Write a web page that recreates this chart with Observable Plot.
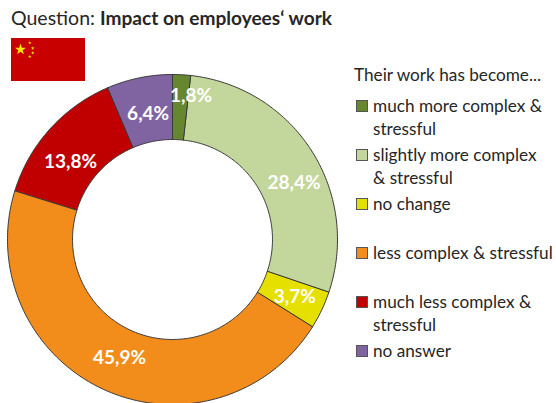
<!DOCTYPE html>
<html>
<head>
<meta charset="utf-8">
<script src="https://cdn.jsdelivr.net/npm/d3@7"></script>
<script src="https://cdn.jsdelivr.net/npm/@observablehq/plot@0.6"></script>
<style>
  html, body { margin: 0; padding: 0; background: #fff; }
  #page { position: relative; width: 556px; height: 403px; overflow: hidden; font-family: Lato, "Open Sans", sans-serif; color: #262626; }
  #page svg { display: block; }
  #donut { position: absolute; left: 0; top: 0; }
  #title { position: absolute; left: 11px; top: 6px; font-size: 19.5px; line-height: 24px; white-space: nowrap; }
  #title b { font-size: 19.1px; }
  #flag { position: absolute; left: 11px; top: 38px; }
  #legend { position: absolute; left: 356px; top: 63px; font-size: 17.2px; line-height: 23px; }
  #legend .head { height: 31px; margin-left: -2px; white-space: nowrap; }
  #legend .row { position: relative; height: 49px; padding-left: 17px; white-space: pre; }
  #legend .swatch { position: absolute; left: 0; top: 6px; width: 10px; height: 10px; border: 1px solid #555; }
</style>
</head>
<body>
<div id="page">
  <div id="donut"></div>
  <div id="title">Question: <b>Impact on employees‘ work</b></div>
  <div id="flag"></div>
  <div id="legend"></div>
</div>
<script>
// Survey answers, clockwise from twelve o'clock
const answers = [
  "much more complex & stressful",
  "slightly more complex & stressful",
  "no change",
  "less complex & stressful",
  "much less complex & stressful",
  "no answer"
];
const shares = [1.8, 28.4, 3.7, 45.9, 13.8, 6.4];
const sliceColors = ["#66862f", "#c3d69b", "#e6e000", "#f28c1a", "#c00000", "#8064a2"];
const legendLines = [
  "much more complex &\nstressful",
  "slightly more complex\n& stressful",
  "no change",
  "less complex & stressful",
  "much less complex &\nstressful",
  "no answer"
];

// Ring geometry in units of the outer radius
const innerRadius = 0.606;
const labelRadius = 0.8;
const polar = (radius, turn) => ({
  x: radius * Math.sin(turn * 2 * Math.PI),
  y: radius * Math.cos(turn * 2 * Math.PI)
});

// Each slice becomes a closed outline: outer arc forward, inner arc back
const total = d3.sum(shares);
const cumulative = d3.cumsum(shares);
const outline = answers.flatMap((answer, i) => {
  const start = (cumulative[i] - shares[i]) / total;
  const end = cumulative[i] / total;
  const steps = Math.max(2, Math.ceil((end - start) * 360));
  const turns = d3.range(steps + 1).map((k) => start + (end - start) * k / steps);
  return [
    ...turns.map((t) => ({answer, ...polar(1, t)})),
    ...turns.slice().reverse().map((t) => ({answer, ...polar(innerRadius, t)}))
  ];
});

// Labels sit at the middle of their slice, nudged off the slice edges
const labelNudges = [[11, -12], [10, 14], [3, 1], [2, -2], [-4, 11], [2, 4]];
const labelMarks = answers.map((answer, i) => {
  const mid = (cumulative[i] - shares[i] / 2) / total;
  const text = shares[i].toFixed(1).replace(".", ",") + "%";
  return Plot.text([{...polar(labelRadius, mid), text}], {
    x: "x", y: "y", text: "text",
    dx: labelNudges[i][0], dy: labelNudges[i][1],
    fill: "#fff", fontSize: 19, fontWeight: 700
  });
});

document.getElementById("donut").append(Plot.plot({
  width: 556,
  height: 403,
  margin: 0,
  style: {background: "transparent", fontFamily: "Lato, 'Open Sans', sans-serif"},
  x: {domain: [-1, 1], range: [7, 337], axis: null},
  y: {domain: [-1, 1], range: [404, 74], axis: null},
  color: {domain: answers, range: sliceColors},
  marks: [
    Plot.line(outline, {
      x: "x", y: "y", z: "answer", fill: "answer",
      stroke: "#3a3a3a", strokeWidth: 1, curve: "linear-closed"
    }),
    ...labelMarks
  ]
}));

// Flag of the surveyed country
const flagStars = [
  {x: 3.65, y: 14.9, r: 3.5},
  {x: 7.4, y: 18, r: 1.1},
  {x: 8.6, y: 15.5, r: 1.1},
  {x: 8.6, y: 13.3, r: 1.1},
  {x: 7.4, y: 11.6, r: 1.1}
];
document.getElementById("flag").append(Plot.plot({
  width: 74,
  height: 43,
  margin: 0,
  style: {background: "#c80000"},
  x: {domain: [0, 30], axis: null},
  y: {domain: [0, 20], axis: null},
  r: {type: "identity"},
  marks: [Plot.dot(flagStars, {x: "x", y: "y", r: "r", symbol: "star", fill: "#ffe600", stroke: "none"})]
}));

// Legend rows
const legend = d3.select("#legend");
legend.append("div").attr("class", "head").text("Their work has become...");
const rows = legend.selectAll(".row").data(legendLines).join("div").attr("class", "row").text((d) => d);
rows.append("span").attr("class", "swatch").style("background", (d, i) => sliceColors[i]);
</script>
</body>
</html>
